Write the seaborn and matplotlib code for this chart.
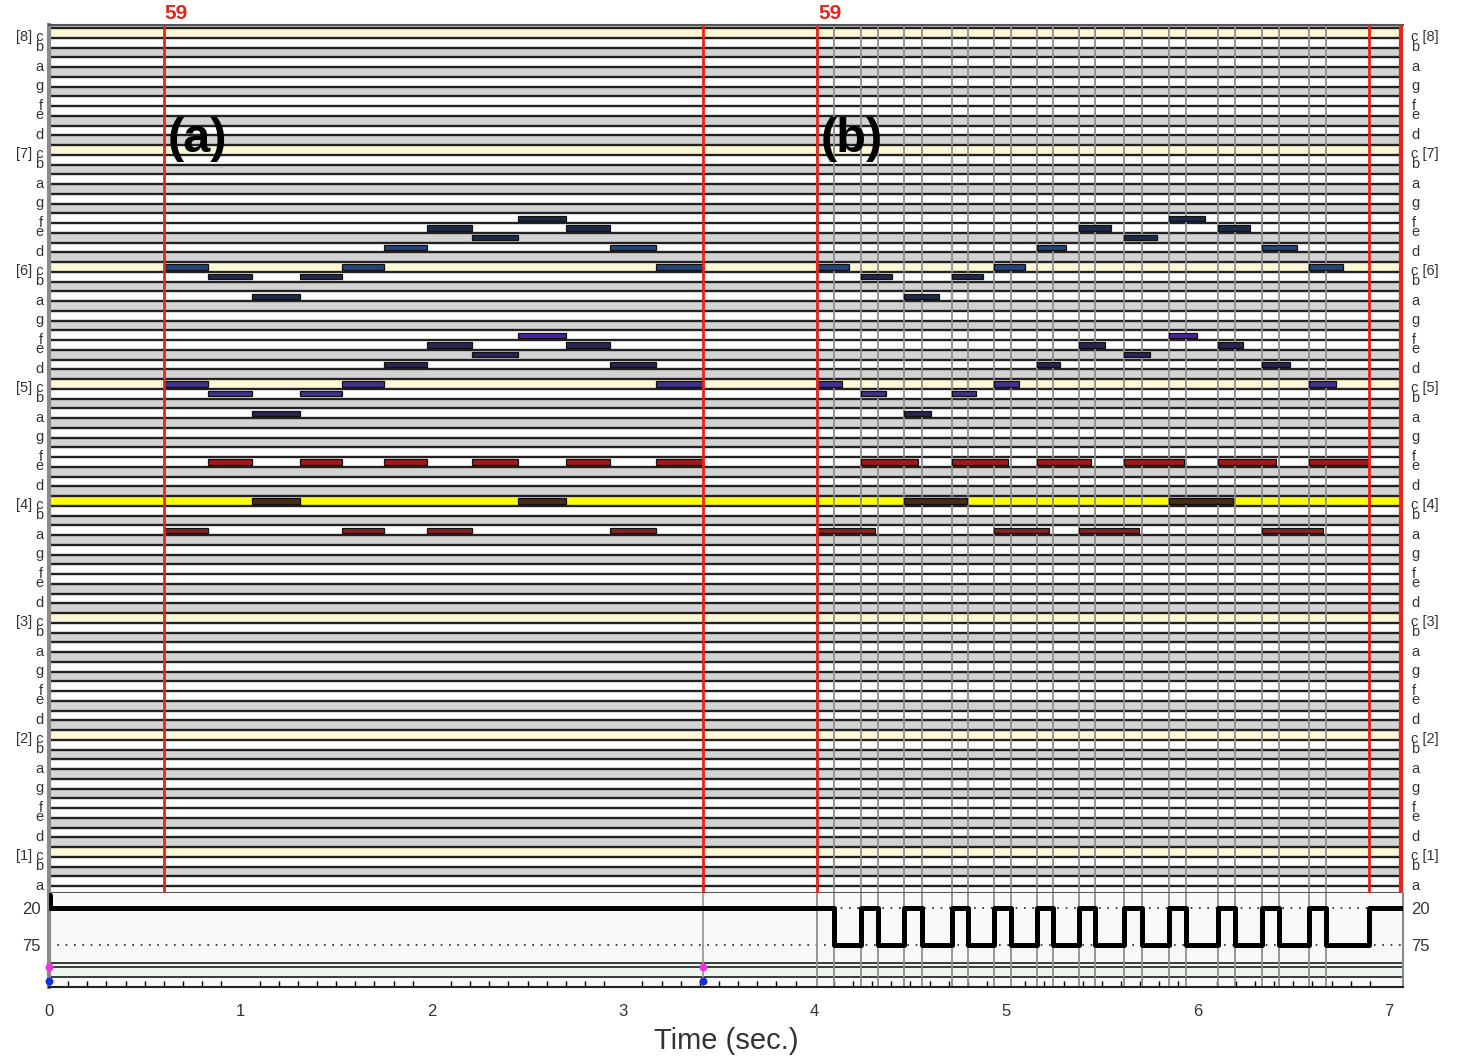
import numpy as np
import pandas as pd
import matplotlib.pyplot as plt
import matplotlib.transforms as mtransforms
import seaborn as sns

sns.set_style("white")
plt.rcParams['font.family'] = ['Liberation Sans', 'DejaVu Sans']

# ---- data ----
# three voices, twelve notes each (MIDI pitch)
pitch_top = [84, 83, 81, 83, 84, 86, 88, 87, 89, 88, 86, 84]
pitch_mid = [72, 71, 69, 71, 72, 74, 76, 75, 77, 76, 74, 72]
pitch_bass = [57, 64, 60, 64, 57, 64, 57, 64, 60, 64, 57, 64]

# (a) strict timing: every voice shares the same slots
a_on = [0.606, 0.831, 1.060, 1.311, 1.531, 1.750, 1.975, 2.210, 2.450, 2.701, 2.931, 3.171]
a_off = [0.831, 1.060, 1.311, 1.531, 1.750, 1.975, 2.210, 2.450, 2.701, 2.931, 3.171, 3.416]

# (b) performed timing
b_on = [4.012, 4.242, 4.466, 4.717, 4.936, 5.159, 5.381, 5.616, 5.851, 6.107, 6.337, 6.582]
b_off_top = [4.179, 4.404, 4.647, 4.879, 5.098, 5.313, 5.550, 5.788, 6.039, 6.274, 6.519, 6.760]
b_off_mid = [4.142, 4.372, 4.607, 4.843, 5.065, 5.281, 5.516, 5.752, 5.997, 6.237, 6.481, 6.723]
b_off_bass = [4.315, 4.540, 4.795, 5.010, 5.224, 5.443, 5.694, 5.929, 6.185, 6.410, 6.655, 6.895]
b_marks = [4.101, 4.331, 4.560, 4.801, 5.023, 5.243, 5.464, 5.710, 5.942, 6.195, 6.425, 6.671]

# red cursor lines and labels
red_times = [0.60, 3.416, 4.012, 6.895]
red_labels = {0.60: "59", 4.012: "59"}

# bottom strip: step curve between levels 20 and 75
tempo_t = [0, 0.005, 4.101, 4.242, 4.331, 4.466, 4.560, 4.717, 4.801, 4.936, 5.023,
           5.159, 5.243, 5.381, 5.464, 5.616, 5.710, 5.851, 5.942, 6.107, 6.195,
           6.337, 6.425, 6.582, 6.671, 6.895, 7.073]
tempo_v = [0, 20, 75, 20, 75, 20, 75, 20, 75, 20, 75,
           20, 75, 20, 75, 20, 75, 20, 75, 20, 75,
           20, 75, 20, 75, 20, 20]
marker_times = [0.0, 3.416]

XMAX = 7.073

rows = []
for part, on, offs in [("a", a_on, [a_off, a_off, a_off]),
                       ("b", b_on, [b_off_top, b_off_mid, b_off_bass])]:
    for voice, pitches, off in zip(["top", "mid", "bass"],
                                   [pitch_top, pitch_mid, pitch_bass], offs):
        for p, s, e in zip(pitches, on, off):
            rows.append({"part": part, "voice": voice, "pitch": p, "on": s, "off": e})
notes = pd.DataFrame(rows)


def note_color(voice, p):
    if voice == "top":
        return "#22437c" if p in (84, 86) else "#1c2a4a"
    if voice == "mid":
        if p == 77:
            return "#4a22a0"
        if p in (72, 71):
            return "#42308a"
        return "#2a2452"
    if p == 64:
        return "#a11a1a"
    if p == 60:
        return "#4b2c12"
    return "#8c1f1f"


notes["color"] = [note_color(v, p) for v, p in zip(notes["voice"], notes["pitch"])]

# ---- figure ----
fig = plt.figure(figsize=(14.59, 10.58), dpi=100)
L, W = 49 / 1459, 1354 / 1459
ax = fig.add_axes([L, 1 - 893 / 1058, W, 868 / 1058])
ax2 = fig.add_axes([L, 1 - 987 / 1058, W, 94 / 1058], sharex=ax)

# piano-roll rows
black_keys = {1, 3, 6, 8, 10}
row_pitch = np.arange(21, 110)
row_col = []
for m in row_pitch:
    if m == 60:
        row_col.append("#ffff00")
    elif m % 12 == 0:
        row_col.append("#fdf9d6")
    elif m % 12 in black_keys:
        row_col.append("#d3d3d3")
    else:
        row_col.append("#ffffff")
ax.barh(row_pitch, XMAX, left=0, height=1.0, color=row_col, linewidth=0, zorder=0)
ax.hlines(np.arange(20.5, 109.5, 1.0), 0, XMAX, color="#222222", lw=1.7, zorder=1)

# gray grid of the performed part
for t in list(b_on) + list(b_marks):
    ax.axvline(t, color="#8e8e8e", lw=1.3, zorder=2)
    ax2.axvline(t, color="#8e8e8e", lw=1.3, zorder=2)
ax2.axvline(3.416, color="#9a9a9a", lw=1.3, zorder=2)

# notes
ax.barh(notes["pitch"], notes["off"] - notes["on"], left=notes["on"], height=0.55,
        color=notes["color"], edgecolor="#111111", linewidth=0.9, zorder=4)

# red cursors
for t in red_times:
    ax.axvline(t, color="#e8241c", lw=2, zorder=5)
ax.axvline(XMAX - 0.006, color="#e8241c", lw=4.5, zorder=5)
trans = mtransforms.blended_transform_factory(ax.transData, ax.transAxes)
for t, lab in red_labels.items():
    ax.text(t + 0.005, 1.002, lab, transform=trans, color="#e8241c", fontsize=15,
            fontweight="bold", ha="left", va="bottom")

ax.text(0.62, 97.1, "(a)", fontsize=35, fontweight="bold", color="black",
        ha="left", va="center", zorder=6)
ax.text(4.03, 97.1, "(b)", fontsize=35, fontweight="bold", color="black",
        ha="left", va="center", zorder=6)

ax.set_xlim(0, XMAX)
ax.set_ylim(19.8, 108.82)

names = {0: "c", 2: "d", 4: "e", 5: "f", 7: "g", 9: "a", 11: "b"}
nat = [m for m in range(21, 109) if m % 12 not in black_keys]
left_lab, right_lab = [], []
for m in nat:
    n = names[m % 12]
    if n == "c":
        left_lab.append(f"[{m // 12 - 1}] c")
        right_lab.append(f"c [{m // 12 - 1}]")
    else:
        left_lab.append(n)
        right_lab.append(n)
ax.set_yticks([m - 0.3 for m in nat])
ax.set_yticklabels(left_lab)
ax_r = ax.secondary_yaxis("right")
ax_r.set_yticks([m - 0.3 for m in nat])
ax_r.set_yticklabels(right_lab)
ax.tick_params(axis="y", length=0, pad=4, labelsize=10.5, labelcolor="#333333")
ax_r.tick_params(axis="y", length=0, pad=6, labelsize=10.5, labelcolor="#333333")
ax_r.spines["right"].set_visible(False)
ax.tick_params(axis="x", bottom=False, labelbottom=False)
for s in ["top", "bottom"]:
    ax.spines[s].set_color("#555555")
    ax.spines[s].set_linewidth(1.5)
ax.spines["left"].set_color("#8a8a8a")
ax.spines["left"].set_linewidth(3)
ax.spines["right"].set_visible(False)

# ---- bottom strip ----
ax2.set_facecolor("#f8f8f8")
ax2.axhspan(101.8, 122.6, color="#eef4ee", zorder=0)
for v in [101.8, 107.7, 122.6]:
    ax2.axhline(v, color="#1a1a1a", lw=1.2, zorder=1)
for v in [20, 75]:
    ax2.axhline(v, color="#222222", lw=1.2, ls=(0, (1, 4)), zorder=1)
sns.lineplot(x=tempo_t, y=tempo_v, drawstyle="steps-post", estimator=None, sort=False,
             color="black", lw=3.6, ax=ax2, zorder=3, legend=False)
ax2.scatter(marker_times, [107.7] * len(marker_times), s=22, color="#ee33dd", zorder=6,
            clip_on=False)
ax2.scatter(marker_times, [128.5] * len(marker_times), s=22, color="#1030e0", zorder=6,
            clip_on=False)
ax2.set_ylim(137.4, -2.3)
ax2.set_yticks([20, 75])
ax2.set_yticklabels(["20", "75"])
ax2.tick_params(axis="y", length=0, pad=6, labelsize=12, labelcolor="#333333",
                left=True, right=True, labelleft=True, labelright=True)
ax2.set_xticks(np.arange(0, 8))
ax2.set_xticks(np.arange(0, 7.05, 0.1), minor=True)
ax2.tick_params(axis="x", which="major", direction="in", length=8, width=1.2,
                color="black", labelsize=12, labelcolor="#333333", pad=12)
ax2.tick_params(axis="x", which="minor", direction="in", length=4.3, width=1.0,
                color="black", bottom=True)
ax2.set_xlabel("Time (sec.)", fontsize=21, color="#333333", labelpad=6)
ax2.set_ylabel("")
ax2.spines["bottom"].set_color("#222222")
ax2.spines["bottom"].set_linewidth(1.5)
ax2.spines["top"].set_visible(False)
ax2.spines["left"].set_color("#8a8a8a")
ax2.spines["left"].set_linewidth(3)
ax2.spines["right"].set_color("#8a8a8a")
ax2.spines["right"].set_linewidth(1.5)
ax2.set_xlim(0, XMAX)

fig.savefig("out.png", dpi=100)
